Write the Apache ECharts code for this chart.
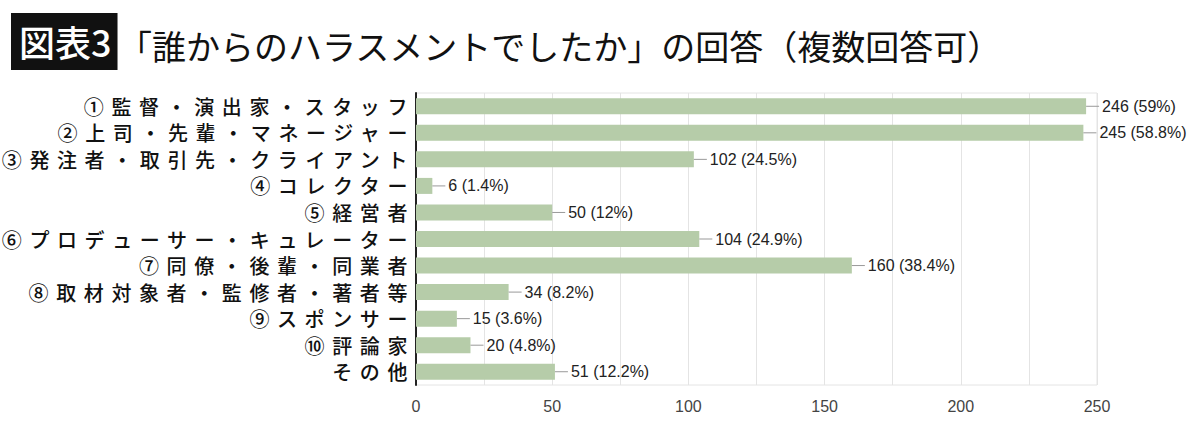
<!DOCTYPE html>
<html><head><meta charset="utf-8">
<script src="https://cdn.jsdelivr.net/npm/echarts@6/dist/echarts.min.js"></script>
<style>
html,body{margin:0;padding:0;background:#fff;}
#c{width:1200px;height:429px;}
#c svg text[text-anchor="end"]{letter-spacing:7.6px;}
</style></head>
<body><div id="c"></div>
<script>
var categories = ['①監督・演出家・スタッフ','②上司・先輩・マネージャー','③発注者・取引先・クライアント','④コレクター','⑤経営者','⑥プロデューサー・キュレーター','⑦同僚・後輩・同業者','⑧取材対象者・監修者・著者等','⑨スポンサー','⑩評論家','その他'];
var values = [246,245,102,6,50,104,160,34,15,20,51];
var percents = ['59%','58.8%','24.5%','1.4%','12%','24.9%','38.4%','8.2%','3.6%','4.8%','12.2%'];

var chart = echarts.init(document.getElementById('c'), null, {renderer:'svg'});
chart.setOption({
  animation:false,
  backgroundColor:'#fff',
  title:[
    {text:'図表3', left:11, top:13, backgroundColor:'#111', padding:[3,6,4,8],
     textStyle:{color:'#fff', fontSize:36, fontWeight:500, lineHeight:50, fontFamily:'Noto Sans CJK JP'}},
    {text:'「誰からのハラスメントでしたか」の回答（複数回答可）', left:113, top:15,
     textStyle:{color:'#111', fontSize:34, fontWeight:'normal', lineHeight:50, fontFamily:'Noto Sans CJK JP'}}
  ],
  grid:{left:416, right:103, top:93, bottom:44, show:true, borderColor:'#e4e4e4', borderWidth:1},
  xAxis:{type:'value', min:0, max:250, interval:50,
    axisLine:{show:false}, axisTick:{show:false},
    axisLabel:{color:'#444', fontSize:16, fontFamily:'Liberation Sans', margin:13},
    splitLine:{show:true, lineStyle:{color:'#e4e4e4', width:1}},
    minorTick:{show:false, splitNumber:2},
    minorSplitLine:{show:true, lineStyle:{color:'#e4e4e4', width:1}}
  },
  yAxis:{type:'category', data:categories, inverse:true,
    axisLine:{show:true, lineStyle:{color:'#222', width:2}},
    axisTick:{show:false},
    axisLabel:{color:'#111', fontSize:20, fontWeight:500, fontFamily:'Noto Sans CJK JP', margin:1}
  },
  series:[{type:'bar', data:values, barWidth:16,
    itemStyle:{color:'#b6cca9'},
    label:{show:true, position:'right', distance:0,
      formatter:function(p){return '{l|}{t|'+values[p.dataIndex]+' ('+percents[p.dataIndex]+')}';},
      rich:{
        l:{width:13, height:1, backgroundColor:'#999'},
        t:{color:'#222', fontSize:16, fontFamily:'Liberation Sans', padding:[0,0,0,3]}
      }
    }
  }]
});
</script></body></html>
